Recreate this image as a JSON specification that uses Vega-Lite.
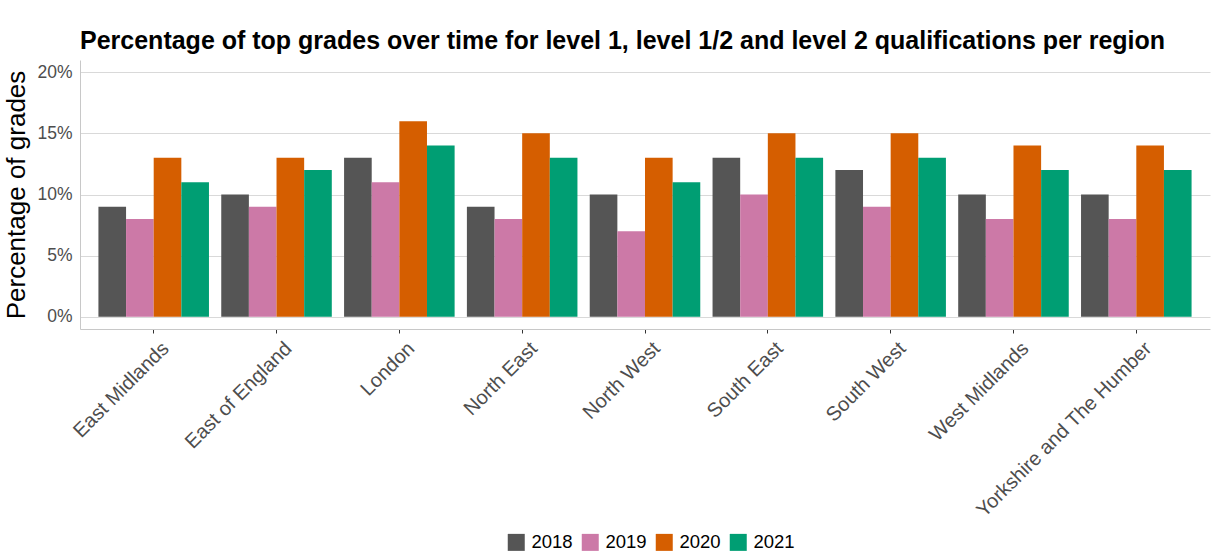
{
  "$schema": "https://vega.github.io/schema/vega-lite/v6.json",
  "width": 1130,
  "height": 269,
  "autosize": {"type": "none"},
  "padding": {"left": 80, "top": 60, "right": 2, "bottom": 229},
  "background": "white",
  "title": {
    "text": "Percentage of top grades over time for level 1, level 1/2 and level 2 qualifications per region",
    "anchor": "start",
    "frame": "group",
    "font": "Liberation Sans",
    "fontSize": 25,
    "fontWeight": "bold",
    "color": "black",
    "offset": 6
  },
  "data": {
    "values": [
      {"region": "East Midlands", "year": "2018", "pct": 9},
      {"region": "East Midlands", "year": "2019", "pct": 8},
      {"region": "East Midlands", "year": "2020", "pct": 13},
      {"region": "East Midlands", "year": "2021", "pct": 11},
      {"region": "East of England", "year": "2018", "pct": 10},
      {"region": "East of England", "year": "2019", "pct": 9},
      {"region": "East of England", "year": "2020", "pct": 13},
      {"region": "East of England", "year": "2021", "pct": 12},
      {"region": "London", "year": "2018", "pct": 13},
      {"region": "London", "year": "2019", "pct": 11},
      {"region": "London", "year": "2020", "pct": 16},
      {"region": "London", "year": "2021", "pct": 14},
      {"region": "North East", "year": "2018", "pct": 9},
      {"region": "North East", "year": "2019", "pct": 8},
      {"region": "North East", "year": "2020", "pct": 15},
      {"region": "North East", "year": "2021", "pct": 13},
      {"region": "North West", "year": "2018", "pct": 10},
      {"region": "North West", "year": "2019", "pct": 7},
      {"region": "North West", "year": "2020", "pct": 13},
      {"region": "North West", "year": "2021", "pct": 11},
      {"region": "South East", "year": "2018", "pct": 13},
      {"region": "South East", "year": "2019", "pct": 10},
      {"region": "South East", "year": "2020", "pct": 15},
      {"region": "South East", "year": "2021", "pct": 13},
      {"region": "South West", "year": "2018", "pct": 12},
      {"region": "South West", "year": "2019", "pct": 9},
      {"region": "South West", "year": "2020", "pct": 15},
      {"region": "South West", "year": "2021", "pct": 13},
      {"region": "West Midlands", "year": "2018", "pct": 10},
      {"region": "West Midlands", "year": "2019", "pct": 8},
      {"region": "West Midlands", "year": "2020", "pct": 14},
      {"region": "West Midlands", "year": "2021", "pct": 12},
      {"region": "Yorkshire and The Humber", "year": "2018", "pct": 10},
      {"region": "Yorkshire and The Humber", "year": "2019", "pct": 8},
      {"region": "Yorkshire and The Humber", "year": "2020", "pct": 14},
      {"region": "Yorkshire and The Humber", "year": "2021", "pct": 12}
    ]
  },
  "mark": {"type": "bar"},
  "encoding": {
    "x": {
      "field": "region",
      "type": "nominal",
      "sort": null,
      "scale": {"paddingInner": 0.1, "paddingOuter": 0.15},
      "axis": {
        "title": null,
        "labelAngle": -45,
        "labelAlign": "right",
        "labelBaseline": "top",
        "labelFont": "Liberation Sans",
        "labelFontSize": 20,
        "labelColor": "#4d4d4d",
        "labelPadding": 5,
        "labelOffset": 5,
        "labelLimit": 400,
        "domainColor": "#c8c8c8",
        "tickColor": "#333333",
        "tickSize": 4,
        "grid": false
      }
    },
    "xOffset": {"field": "year", "type": "nominal", "scale": {"paddingInner": 0, "paddingOuter": 0}},
    "y": {
      "field": "pct",
      "type": "quantitative",
      "scale": {"domain": [-1, 21], "nice": false, "zero": false},
      "axis": {
        "title": "Percentage of grades",
        "titleFont": "Liberation Sans",
        "titleFontSize": 26,
        "titleFontWeight": "normal",
        "titleColor": "black",
        "titlePadding": 7,
        "values": [0, 5, 10, 15, 20],
        "labelExpr": "datum.value + '%'",
        "labelFont": "Liberation Sans",
        "labelFontSize": 17.5,
        "labelColor": "#4d4d4d",
        "labelPadding": 8,
        "ticks": false,
        "domainColor": "#c8c8c8",
        "gridColor": "#d9d9d9",
        "gridWidth": 1
      }
    },
    "color": {
      "field": "year",
      "type": "nominal",
      "scale": {
        "domain": ["2018", "2019", "2020", "2021"],
        "range": ["#555555", "#cc79a7", "#d55e00", "#009e73"]
      },
      "legend": {
        "title": null,
        "orient": "none",
        "direction": "horizontal",
        "legendX": 427,
        "legendY": 473,
        "symbolType": "square",
        "symbolSize": 289,
        "symbolStrokeWidth": 0,
        "labelFont": "Liberation Sans",
        "labelFontSize": 18.5,
        "labelColor": "black",
        "labelOffset": 6,
        "columnPadding": 8
      }
    }
  },
  "config": {
    "view": {"stroke": null}
  }
}
